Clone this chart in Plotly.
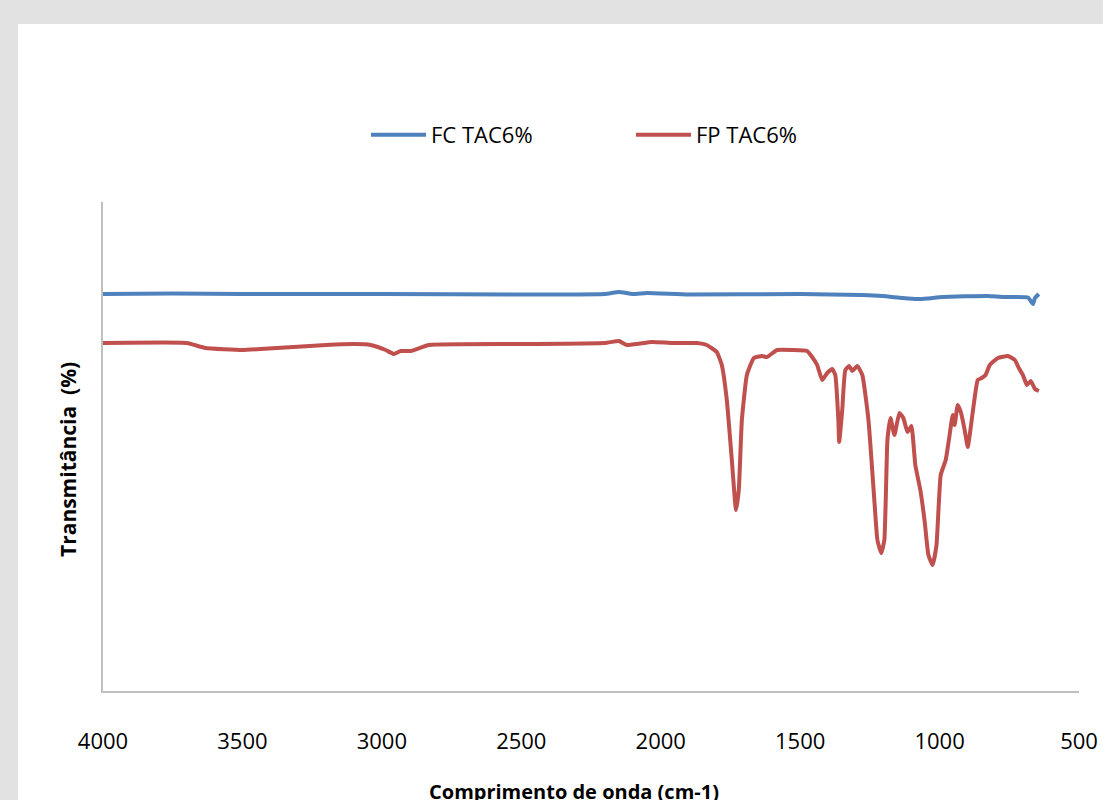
import plotly.graph_objects as go

# Wavenumbers (cm-1) and transmittance (%)
fc_x = [4000, 3750, 3500, 3000, 2500, 2200, 2150, 2100, 2050, 1900, 1500, 1277, 1205, 1133, 1079, 1043, 989, 827, 773, 683, 665, 658, 644]
fc_y = [81.19, 81.29, 81.19, 81.19, 81.08, 81.19, 81.60, 81.19, 81.39, 81.08, 81.19, 80.98, 80.78, 80.37, 80.16, 80.27, 80.57, 80.78, 80.57, 80.47, 79.14, 80.37, 81.19]

fp_x = [4000, 3700, 3633, 3500, 3435, 3200, 3100, 3040, 2986, 2957, 2932, 2896, 2831, 2500, 2200, 2150, 2122, 2032,
        1960, 1870, 1835, 1799, 1781, 1763, 1745, 1734, 1730, 1720, 1709, 1691, 1666, 1637, 1619, 1583, 1529, 1475,
        1457, 1439, 1421, 1403, 1385, 1374, 1363, 1360, 1349, 1338, 1324, 1313, 1295, 1277, 1255, 1234, 1223, 1209,
        1198, 1187, 1176, 1162, 1144, 1130, 1115, 1101, 1087, 1069, 1054, 1040, 1025, 1011, 996, 978, 964, 953, 946,
        935, 924, 910, 899, 881, 863, 849, 835, 820, 791, 755, 730, 716, 701, 687, 673, 658, 644]
fp_y = [71.17, 71.17, 70.14, 69.73, 69.94, 70.76, 70.96, 70.76, 69.73, 68.92, 69.53, 69.53, 70.76, 70.96, 71.17, 71.57,
        70.76, 71.37, 71.17, 71.17, 70.76, 69.33, 66.67, 59.51, 47.24, 39.06, 37.01, 41.10, 55.42, 64.62, 68.10, 68.51,
        68.30, 69.73, 69.73, 69.53, 68.30, 66.67, 63.60, 65.03, 65.85, 64.62, 55.42, 50.92, 57.46, 65.64, 66.46, 65.44,
        66.46, 64.62, 55.42, 39.06, 30.88, 28.22, 30.88, 51.33, 55.83, 52.35, 56.85, 55.83, 52.97, 54.19, 46.22, 41.10,
        34.97, 27.81, 25.77, 29.86, 44.17, 47.24, 52.35, 56.44, 54.40, 58.49, 57.06, 53.37, 49.90, 57.06, 63.60, 64.01,
        64.62, 66.67, 68.10, 68.51, 67.69, 66.05, 64.62, 62.58, 63.39, 61.76, 61.35]

x_ticks = [4000, 3500, 3000, 2500, 2000, 1500, 1000, 500]

FONT = "Open Sans"

fig = go.Figure()
fig.add_trace(go.Scatter(x=fc_x, y=fc_y, mode="lines", name="FC TAC6%",
                         line=dict(color="#4F81BD", width=4, shape="spline", smoothing=0.4)))
fig.add_trace(go.Scatter(x=fp_x, y=fp_y, mode="lines", name="FP TAC6%",
                         line=dict(color="#C0504D", width=4, shape="spline", smoothing=0.4)))

W, H = 1103, 800
L, R, T, B = 103, 24, 202, 109
pw, ph = W - L - R, H - T - B

def px_x(p):
    return (p - L) / pw

def px_y(p):
    return (H - B - p) / ph

fig.update_layout(
    width=W, height=H,
    autosize=False,
    margin=dict(l=L, r=R, t=T, b=B, pad=0, autoexpand=False),
    paper_bgcolor="#e2e2e2",
    plot_bgcolor="white",
    showlegend=True,
    legend=dict(orientation="h", x=px_x(366), xanchor="left", y=px_y(135), yanchor="middle",
                font=dict(family=FONT, size=22, color="#000000"), bgcolor="rgba(0,0,0,0)",
                entrywidth=195, entrywidthmode="pixels", itemwidth=55),
    xaxis=dict(range=[4000, 500], tickvals=x_ticks, ticktext=[str(v) for v in x_ticks],
               showgrid=False, zeroline=False, showline=True, linecolor="#bfbfbf", linewidth=1.5,
               ticks="", ticklabelstandoff=30, automargin=False,
               tickfont=dict(family=FONT, size=22, color="#000000")),
    yaxis=dict(range=[0, 100], showticklabels=False, showgrid=False, zeroline=False,
               showline=True, linecolor="#bfbfbf", linewidth=1.5, ticks="", automargin=False),
    shapes=[dict(type="rect", xref="paper", yref="paper", layer="below",
                 x0=px_x(18), x1=px_x(W + 5), y0=px_y(H + 5), y1=px_y(24),
                 fillcolor="white", line=dict(width=0))],
    annotations=[
        dict(text="<b>Comprimento de onda (cm-1)</b>", xref="paper", yref="paper",
             x=px_x(574), y=px_y(791), xanchor="center", yanchor="middle", showarrow=False,
             font=dict(family=FONT, size=20, color="#000000")),
        dict(text="<b>Transmitância  (%)</b>", xref="paper", yref="paper",
             x=px_x(68), y=px_y(460), xanchor="center", yanchor="middle", showarrow=False,
             textangle=-90, font=dict(family=FONT, size=21, color="#000000")),
    ],
)

fig.write_html("out.html", config={"displayModeBar": False},
               post_script="document.body.style.margin='0';document.body.style.overflow='hidden';")
